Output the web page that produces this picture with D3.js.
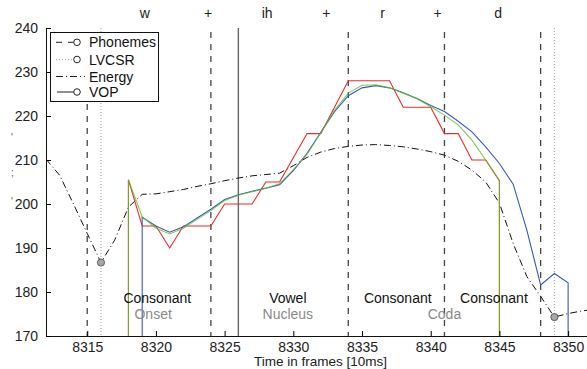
<!DOCTYPE html>
<html>
<head>
<meta charset="utf-8">
<script src="https://cdn.jsdelivr.net/npm/d3@7"></script>
<style>
	body { margin: 0; background: white; }
	svg text { font-family: "Liberation Sans", Arial, Helvetica, sans-serif; }
</style>
</head>
<body>
<div id="viz"></div>
<script>
// frames on x, values on y
let energyStart = 8312;
let energy = [210.2, 206.5, 200, 193.3, 186.7, 191.8, 199.3, 202.2, 202.3, 202.8,
	203.3, 204, 204.6, 205.3, 205.9, 206.4, 206.7, 207, 208.7, 210.6,
	211.8, 212.6, 213.1, 213.4, 213.5, 213.3, 213, 212.5, 211.9, 211.1,
	209.7, 207.7, 205, 200.2, 191, 183.5, 179, 174.3, 175.1, 175.7, 176.1];
let redStart = 8318;
let red = [205.5, 195, 195, 190, 195, 195, 195, 200, 200, 200,
	205, 205, 210.5, 216, 216, 222, 228, 228, 228, 228,
	222, 222, 222, 216, 216, 210, 210, 205.3];
let greenStart = 8318;
let green = [205.5, 197.1, 194.5, 193.2, 194.5, 196.5, 198.5, 200.8, 202, 202.8,
	203.6, 204.6, 207.8, 211.3, 216.2, 221.3, 225.2, 227, 227.1, 226.4,
	225.2, 223.9, 222.1, 220.2, 218, 214.5, 210, 205.3];
let blueStart = 8319;
let blue = [197, 195, 193.6, 194.8, 196.8, 198.8, 201, 202.1, 202.9, 203.6,
	204.4, 207.6, 211.5, 216.3, 221, 224.6, 226.4, 226.9, 226.4, 225.3,
	224, 222.4, 221, 218.8, 216.4, 213, 209.2, 204.5, 194, 181.6,
	184.2, 182.1];

let phonemeBounds = [8315, 8324, 8334, 8341, 8348];
let lvcsrBounds = [8316, 8349];
let vopFrames = [8326];

let topText = ["w", "+", "ih", "+", "r", "+", "d"];
let topPos = [8319.2, 8323.8, 8328.1, 8332.4, 8336.5, 8340.5, 8344.9];

let segText = ["Consonant", "Vowel", "Consonant", "Consonant"];
let segPos = [8320.1, 8329.6, 8337.6, 8344.6];
let subText = ["Onset", "Nucleus", "Coda"];
let subPos = [8319.8, 8329.6, 8341];

let xTicks = [8315, 8320, 8325, 8330, 8335, 8340, 8345, 8350];
let yTicks = [170, 180, 190, 200, 210, 220, 230, 240];
let legendNames = ["Phonemes", "LVCSR", "Energy", "VOP"];

function draw() {
	let width = 587, height = 369;
	let left = 46, top = 28, bottom = 336;

	let x = d3.scaleLinear().domain([8312, 8352]).range([left, 595.6]);
	let y = d3.scaleLinear().domain([170, 240]).range([bottom, top]);

	let svg = d3.select("#viz").append("svg")
		.attr("width", width).attr("height", height);

	svg.append("clipPath").attr("id", "plot")
		.append("rect").attr("x", left).attr("y", top)
		.attr("width", width - left).attr("height", bottom - top);

	let g = svg.append("g").attr("clip-path", "url(#plot)");

	// turn a value list into points, with drops to the axis where needed
	function pts(start, vals, dropStart, dropEnd) {
		let p = vals.map((v, i) => ({f: start + i, v: v}));
		if (dropStart) p.unshift({f: start, v: 170});
		if (dropEnd) p.push({f: start + vals.length - 1, v: 170});
		return p;
	}
	let line = d3.line().x(d => x(d.f)).y(d => y(d.v));

	// vertical markers
	g.selectAll(".lv").data(lvcsrBounds).enter().append("line")
		.attr("x1", d => x(d)).attr("x2", d => x(d))
		.attr("y1", top).attr("y2", bottom)
		.attr("stroke", "#b0b0b0").attr("stroke-width", 1.2)
		.attr("stroke-dasharray", "1,2");
	g.selectAll(".ph").data(phonemeBounds).enter().append("line")
		.attr("x1", d => x(d)).attr("x2", d => x(d))
		.attr("y1", top + 4).attr("y2", bottom)
		.attr("stroke", "#444").attr("stroke-width", 1.3)
		.attr("stroke-dasharray", "6,6");
	g.selectAll(".vop").data(vopFrames).enter().append("line")
		.attr("x1", d => x(d)).attr("x2", d => x(d))
		.attr("y1", top).attr("y2", bottom)
		.attr("stroke", "#666").attr("stroke-width", 1.4);

	// curves
	g.append("path").attr("d", line(pts(energyStart, energy)))
		.attr("fill", "none").attr("stroke", "#111").attr("stroke-width", 1)
		.attr("stroke-dasharray", "7,3,1,3");
	g.append("path").attr("d", line(pts(redStart, red, true, true)))
		.attr("fill", "none").attr("stroke", "#ee2a2a").attr("stroke-width", 1.1);
	g.append("path").attr("d", line(pts(blueStart, blue, true, true)))
		.attr("fill", "none").attr("stroke", "#3a5bb5").attr("stroke-width", 1.1);
	g.append("path").attr("d", line(pts(greenStart, green, true, true)))
		.attr("fill", "none").attr("stroke", "#5fbf2a").attr("stroke-width", 1.1)
		.attr("stroke-opacity", 0.8);

	// LVCSR marks on the energy curve
	g.selectAll(".mk").data(lvcsrBounds).enter().append("circle")
		.attr("cx", d => x(d)).attr("cy", d => y(energy[d - energyStart]))
		.attr("r", 3.6).attr("fill", "#a8a8a8").attr("stroke", "#444").attr("stroke-width", 0.8);

	// segment labels
	svg.selectAll(".seg").data(segText).enter().append("text")
		.attr("x", (d, i) => x(segPos[i])).attr("y", y(177.4))
		.attr("text-anchor", "middle").attr("font-size", 14).attr("fill", "#111")
		.text(d => d);
	svg.selectAll(".sub").data(subText).enter().append("text")
		.attr("x", (d, i) => x(subPos[i])).attr("y", y(173.9))
		.attr("text-anchor", "middle").attr("font-size", 14).attr("fill", "#8a8a8a")
		.text(d => d);

	// phone labels above the plot
	svg.selectAll(".top").data(topText).enter().append("text")
		.attr("x", (d, i) => x(topPos[i])).attr("y", 18)
		.attr("text-anchor", "middle").attr("font-size", 14).attr("fill", "#222")
		.text(d => d);

	// axes, matlab style ticks pointing inward
	let xAxis = svg.append("g").attr("transform", "translate(0," + bottom + ")")
		.call(d3.axisBottom(x).tickValues(xTicks).tickFormat(d3.format("d"))
			.tickSizeInner(-5).tickSizeOuter(0).tickPadding(6));
	xAxis.select(".domain").attr("stroke", "#111");
	xAxis.selectAll("text").attr("font-size", 14).attr("fill", "#222")
		.attr("font-family", "Liberation Sans, Arial, sans-serif");

	let yAxis = svg.append("g").attr("transform", "translate(" + left + ",0)")
		.call(d3.axisLeft(y).tickValues(yTicks)
			.tickSizeInner(-5).tickSizeOuter(0).tickPadding(8));
	yAxis.select(".domain").attr("stroke", "#111");
	yAxis.selectAll("text").attr("font-size", 14).attr("fill", "#222")
		.attr("font-family", "Liberation Sans, Arial, sans-serif");

	svg.append("text").attr("x", 320.5).attr("y", 366)
		.attr("text-anchor", "middle").attr("font-size", 13.5).attr("fill", "#222")
		.text("Time in frames [10ms]");

	// leftovers of the clipped y label
	svg.selectAll(".yl").data([137, 172, 201]).enter().append("text")
		.attr("x", 11).attr("y", d => d + 4).attr("font-size", 10).attr("fill", "#555")
		.text((d, i) => i === 1 ? ";" : "'");

	// legend
	let lg = svg.append("g");
	lg.append("rect").attr("x", 50.5).attr("y", 32.5).attr("width", 108).attr("height", 69)
		.attr("fill", "white").attr("stroke", "#111").attr("stroke-width", 1);
	let rowY = [42.3, 59.5, 76.5, 92];
	let styles = [
		{dash: "6,6", color: "#222", x1: 56, x2: 74, mark: true},
		{dash: "1,2", color: "#aaa", x1: 56, x2: 74, mark: true},
		{dash: "7,3,1,3", color: "#222", x1: 56, x2: 85, mark: false},
		{dash: null, color: "#222", x1: 57, x2: 74, mark: true}
	];
	legendNames.forEach((name, i) => {
		let s = styles[i];
		lg.append("line").attr("x1", s.x1).attr("x2", s.x2)
			.attr("y1", rowY[i]).attr("y2", rowY[i])
			.attr("stroke", s.color).attr("stroke-width", 1)
			.attr("stroke-dasharray", s.dash);
		if (s.mark) {
			lg.append("circle").attr("cx", 77).attr("cy", rowY[i]).attr("r", 3.3)
				.attr("fill", "white").attr("stroke", "#222").attr("stroke-width", 1);
		}
		lg.append("text").attr("x", 89).attr("y", rowY[i] + 5)
			.attr("font-size", 14).attr("fill", "#111").text(name);
	});
}

draw();
</script>
</body>
</html>
